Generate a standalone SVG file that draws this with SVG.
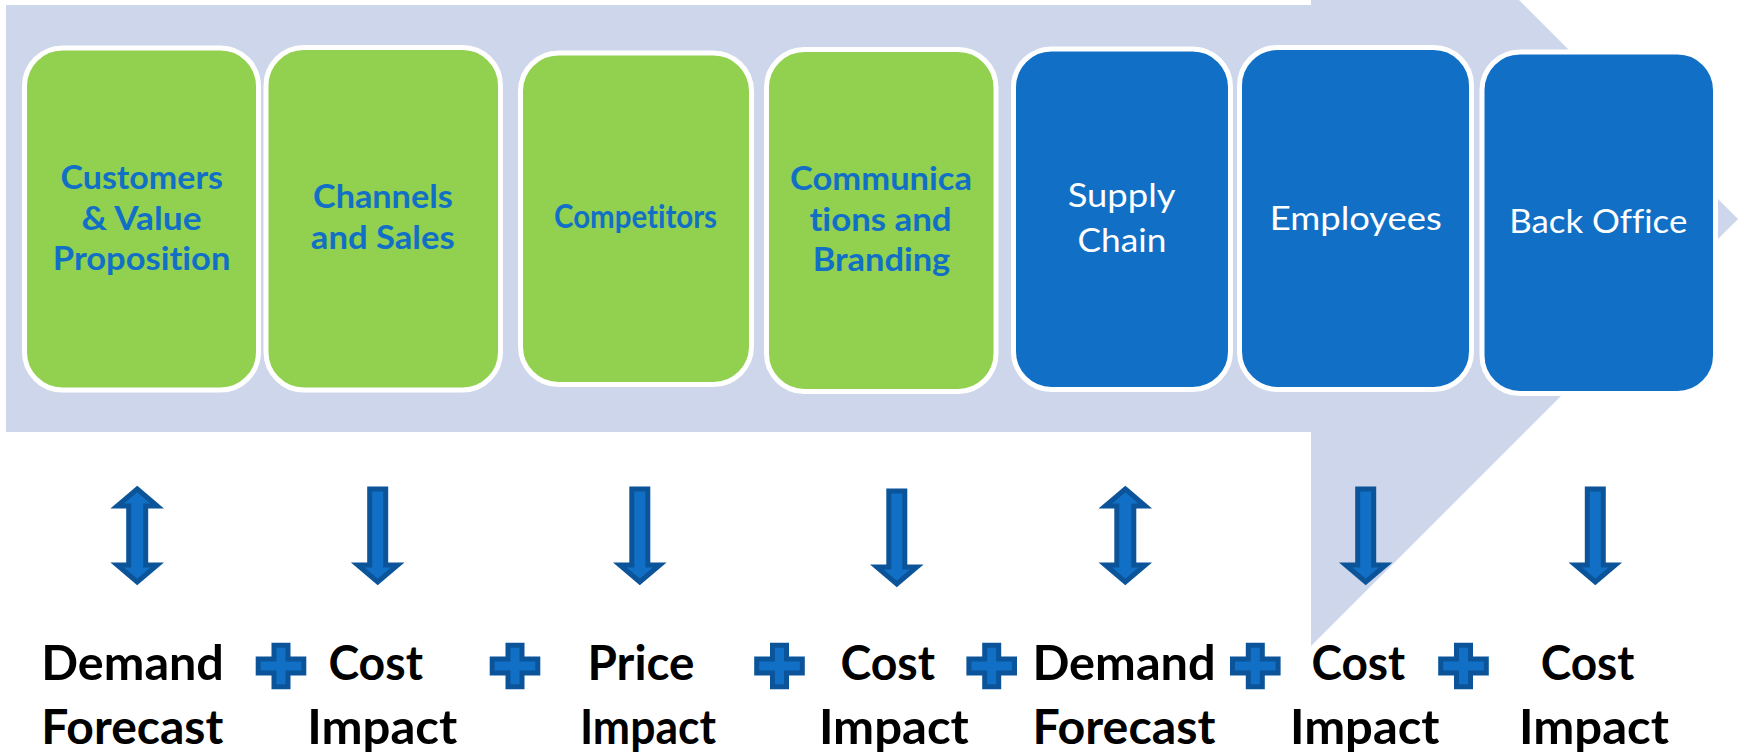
<svg xmlns="http://www.w3.org/2000/svg" width="1738" height="753" viewBox="0 0 1738 753">
  <style>
    text { font-variant-ligatures: none; }
    .box { stroke: #FFFFFF; stroke-width: 5; }
    .green { fill: #92D050; }
    .blue { fill: #1170C6; }
    .tb { font-family: Lato, "Open Sans", "Liberation Sans", sans-serif; font-weight: bold; fill: #1170C6; font-size: 33px; }
    .tw { font-family: Lato, "Open Sans", "Liberation Sans", sans-serif; font-weight: normal; fill: #FFFFFF; font-size: 33px; }
    .lbl { font-family: Lato, "Open Sans", "Liberation Sans", sans-serif; font-weight: bold; fill: #000000; font-size: 47.5px; }
    .conn { fill: #1170C6; stroke: #0B5499; stroke-width: 5; stroke-linejoin: miter; }
  </style>
  <defs>
    <path id="down" d="M -8,0 H 8 V 76 H 20 L 0,93 L -20,76 H -8 Z"/>
    <path id="updown" d="M 0,0 L 20,17 H 8.5 V 76 H 20 L 0,93 L -20,76 H -8.5 V 17 H -20 Z"/>
    <path id="plus" d="M -7,-20.8 H 7 V -7 H 22.8 V 7 H 7 V 20.8 H -7 V 7 H -22.8 V -7 H -7 Z"/>
  </defs>

  <rect width="1738" height="753" fill="#FFFFFF"/>

  <!-- process band -->
  <polygon id="band" points="6,5 1311,5 1311,-208 1738,219 1311,646 1311,432 6,432" fill="#CDD6EA"/>

  <g id="customers">
    <rect class="box green" x="24.5" y="48" width="234" height="342" rx="38"/>
    <text class="tb" x="60.5" y="189.3" textLength="162.5" lengthAdjust="spacingAndGlyphs">Customers</text>
    <text class="tb" x="81.5" y="230" textLength="120" lengthAdjust="spacingAndGlyphs">&amp; Value</text>
    <text class="tb" x="52.8" y="270" textLength="177.6" lengthAdjust="spacingAndGlyphs">Proposition</text>
  </g>
  <g id="channels">
    <rect class="box green" x="266" y="47.5" width="234.5" height="342.5" rx="38"/>
    <text class="tb" x="313" y="208.3" textLength="139.7" lengthAdjust="spacingAndGlyphs">Channels</text>
    <text class="tb" x="310.8" y="249.3" textLength="143.9" lengthAdjust="spacingAndGlyphs">and Sales</text>
  </g>
  <g id="competitors">
    <rect class="box green" x="520.5" y="53" width="231" height="331.5" rx="38"/>
    <text class="tb" x="554" y="228" font-size="27.5" textLength="163" lengthAdjust="spacingAndGlyphs">Competitors</text>
  </g>
  <g id="communications">
    <rect class="box green" x="766.5" y="49.5" width="229.5" height="342" rx="38"/>
    <text class="tb" x="790" y="190" textLength="182" lengthAdjust="spacingAndGlyphs">Communica</text>
    <text class="tb" x="809.4" y="230.7" textLength="142.2" lengthAdjust="spacingAndGlyphs">tions and</text>
    <text class="tb" x="812.7" y="270.7" textLength="137.6" lengthAdjust="spacingAndGlyphs">Branding</text>
  </g>
  <g id="supply-chain">
    <rect class="box blue" x="1013.5" y="49" width="217" height="340.5" rx="38"/>
    <text class="tw" x="1067.7" y="206.7" textLength="107.8" lengthAdjust="spacingAndGlyphs">Supply</text>
    <text class="tw" x="1077.6" y="251.7" textLength="88.7" lengthAdjust="spacingAndGlyphs">Chain</text>
  </g>
  <g id="employees">
    <rect class="box blue" x="1239.5" y="47.5" width="232" height="342" rx="38"/>
    <text class="tw" x="1269.7" y="229.5" textLength="172.2" lengthAdjust="spacingAndGlyphs">Employees</text>
  </g>
  <g id="back-office">
    <rect class="box blue" x="1482" y="52" width="233.5" height="341.5" rx="38"/>
    <text class="tw" x="1509.3" y="233.3" textLength="178" lengthAdjust="spacingAndGlyphs">Back Office</text>
  </g>

  <!-- impact arrows and plus signs -->
  <g id="connectors">
    <use href="#updown" class="conn" x="137.2" y="489"/>
    <use href="#down" class="conn" x="377.7" y="489"/>
    <use href="#down" class="conn" x="639.8" y="489"/>
    <use href="#down" class="conn" x="896.8" y="491"/>
    <use href="#updown" class="conn" x="1125.3" y="489"/>
    <use href="#down" class="conn" x="1365.7" y="489"/>
    <use href="#down" class="conn" x="1595.3" y="489"/>

    <use href="#plus" class="conn" x="281" y="666"/>
    <use href="#plus" class="conn" x="515" y="666"/>
    <use href="#plus" class="conn" x="779.5" y="666"/>
    <use href="#plus" class="conn" x="991.7" y="666"/>
    <use href="#plus" class="conn" x="1255.3" y="666"/>
    <use href="#plus" class="conn" x="1463.5" y="666"/>
  </g>

  <g id="labels">
    <text class="lbl" x="41.3" y="680" textLength="182.6" lengthAdjust="spacingAndGlyphs">Demand</text>
    <text class="lbl" x="41.3" y="744" textLength="182" lengthAdjust="spacingAndGlyphs">Forecast</text>

    <text class="lbl" x="328.4" y="680" textLength="94.5" lengthAdjust="spacingAndGlyphs">Cost</text>
    <text class="lbl" x="307.3" y="744" textLength="150" lengthAdjust="spacingAndGlyphs">Impact</text>

    <text class="lbl" x="587.5" y="680" textLength="107" lengthAdjust="spacingAndGlyphs">Price</text>
    <text class="lbl" x="580" y="744" textLength="136" lengthAdjust="spacingAndGlyphs">Impact</text>

    <text class="lbl" x="840.5" y="680" textLength="94.5" lengthAdjust="spacingAndGlyphs">Cost</text>
    <text class="lbl" x="818.9" y="744" textLength="150" lengthAdjust="spacingAndGlyphs">Impact</text>

    <text class="lbl" x="1032.4" y="680" textLength="183.3" lengthAdjust="spacingAndGlyphs">Demand</text>
    <text class="lbl" x="1032.4" y="744" textLength="183" lengthAdjust="spacingAndGlyphs">Forecast</text>

    <text class="lbl" x="1311.5" y="680" textLength="93.7" lengthAdjust="spacingAndGlyphs">Cost</text>
    <text class="lbl" x="1290" y="744" textLength="149.5" lengthAdjust="spacingAndGlyphs">Impact</text>

    <text class="lbl" x="1540.8" y="680" textLength="93.6" lengthAdjust="spacingAndGlyphs">Cost</text>
    <text class="lbl" x="1519" y="744" textLength="150" lengthAdjust="spacingAndGlyphs">Impact</text>
  </g>
</svg>
